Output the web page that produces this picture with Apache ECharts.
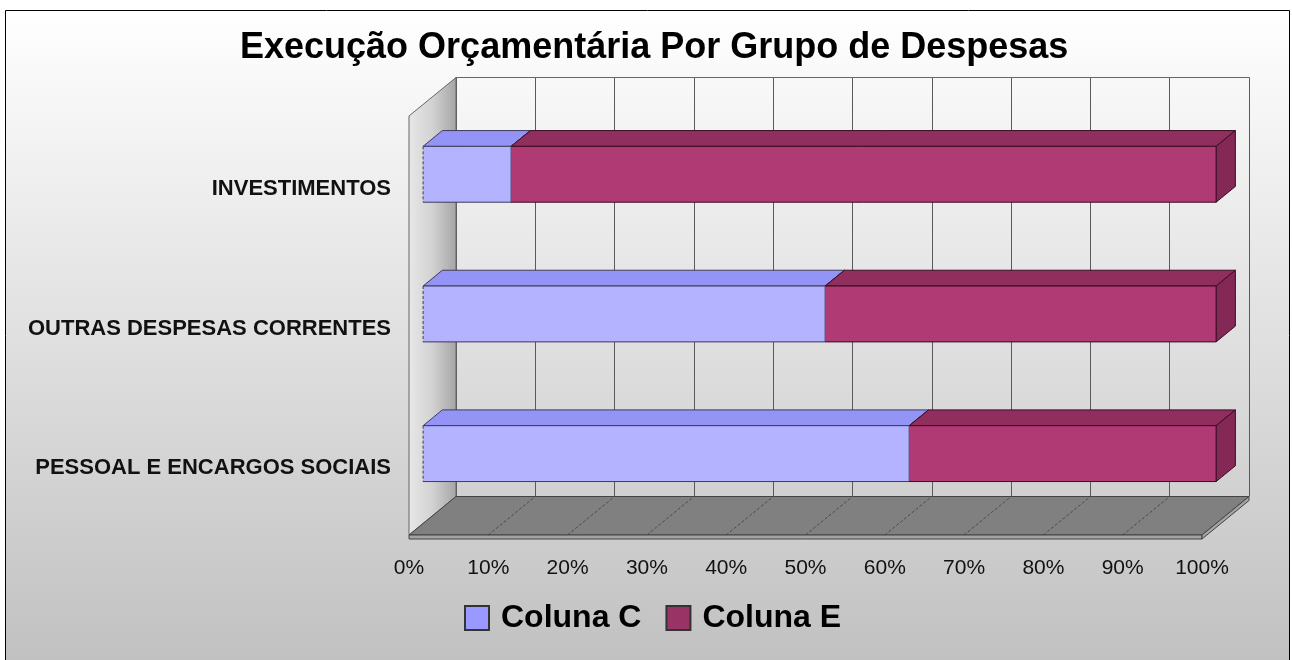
<!DOCTYPE html>
<html lang="pt-BR">
<head>
    <meta charset="UTF-8">
    <script src="https://cdn.jsdelivr.net/npm/echarts@6/dist/echarts.min.js"></script>
    <style>
        html, body { margin: 0; padding: 0; background: #fff; }
        #chart { width: 1292px; height: 660px; }
    </style>
</head>
<body>
<div id="chart"></div>
<script>
    // dados (categorias de baixo para cima, como no eixo)
    var categorias = ['PESSOAL E ENCARGOS SOCIAIS', 'OUTRAS DESPESAS CORRENTES', 'INVESTIMENTOS'];
    var colunaC = [61.3, 50.7, 11.1];
    var colunaE = [38.7, 49.3, 88.9];
    var ticksX = [0, 10, 20, 30, 40, 50, 60, 70, 80, 90, 100];

    // "profundidade" do efeito 3D
    var DX = 47, DY = -38.5;
    var FRENTE = 0.3, FUNDO = 0.41; // posicao da barra dentro da profundidade
    var fonte = 'Liberation Sans, Arial, sans-serif';

    var myChart = echarts.init(document.getElementById('chart'));

    // caixa 3D para cada pedaco da barra
    function caixa(cores) {
        return function (params, api) {
            var cat = api.value(0);
            var p0 = api.coord([api.value(1), cat]);
            var p1 = api.coord([api.value(2), cat]);
            var h = api.size([0, 1])[1] * 0.4;
            var fx = DX * FRENTE, fy = DY * FRENTE;
            var dx = DX * FUNDO, dy = DY * FUNDO;
            var x0 = p0[0] + fx, x1 = p1[0] + fx;
            var yT = p0[1] + fy - h / 2, yB = p0[1] + fy + h / 2;
            var filhos = [
                {type: 'polygon', shape: {points: [[x0, yT], [x0 + dx, yT + dy], [x1 + dx, yT + dy], [x1, yT]]},
                    style: {fill: cores.topo, stroke: cores.borda, lineWidth: 1}},
                {type: 'polygon', shape: {points: [[x1, yT], [x1 + dx, yT + dy], [x1 + dx, yB + dy], [x1, yB]]},
                    style: {fill: cores.lado, stroke: cores.borda, lineWidth: 1}},
                {type: 'rect', shape: {x: x0, y: yT, width: x1 - x0, height: h},
                    style: {fill: cores.frente}},
                {type: 'polyline', shape: {points: [[x0, yT], [x1, yT], [x1, yB], [x0, yB]]},
                    style: {fill: null, stroke: cores.borda, lineWidth: 1}}
            ];
            if (api.value(1) === 0) {
                filhos.push({type: 'line', shape: {x1: x0, y1: yT, x2: x0, y2: yB},
                    style: {stroke: cores.borda, lineWidth: 1, lineDash: [3, 2]}});
            }
            return {type: 'group', children: filhos};
        };
    }

    // parede lateral e piso
    function cenario(params, api) {
        var cs = params.coordSys;
        var xl = cs.x, xr = cs.x + cs.width, yt = cs.y, yb = cs.y + cs.height;
        var filhos = [
            {type: 'polygon', shape: {points: [[xl, yt], [xl + DX, yt + DY], [xl + DX, yb + DY], [xl, yb]]},
                style: {
                    fill: new echarts.graphic.LinearGradient(0, 0, 1, 0, [
                        {offset: 0, color: '#e8e8e8'}, {offset: 0.5, color: '#d2d2d2'}, {offset: 1, color: '#a4a4a4'}
                    ]),
                    stroke: '#666', lineWidth: 1
                }},
            {type: 'polygon', shape: {points: [[xl, yb], [xl + DX, yb + DY], [xr + DX, yb + DY], [xr, yb]]},
                style: {fill: '#808080', stroke: '#444', lineWidth: 1}},
            {type: 'rect', shape: {x: xl, y: yb, width: cs.width, height: 4},
                style: {fill: '#a3a3a3', stroke: '#444', lineWidth: 1}},
            {type: 'polygon', shape: {points: [[xr, yb], [xr + DX, yb + DY], [xr + DX, yb + DY + 4], [xr, yb + 4]]},
                style: {fill: '#a3a3a3', stroke: '#444', lineWidth: 1}}
        ];
        ticksX.forEach(function (v) {
            if (v === 0 || v === 100) return;
            var x = api.coord([v, 0])[0];
            filhos.push({type: 'line', shape: {x1: x, y1: yb, x2: x + DX, y2: yb + DY},
                style: {stroke: '#4a4a4a', lineWidth: 1, lineDash: [3, 2]}});
        });
        return {type: 'group', children: filhos};
    }

    var frente = {left: 409, top: 116, width: 793, height: 419};

    myChart.setOption({
        animation: false,
        graphic: [{
            type: 'rect', z: -10, silent: true,
            shape: {x: 5.5, y: 10.5, width: 1284, height: 660},
            style: {
                fill: new echarts.graphic.LinearGradient(0, 0, 0, 1, [
                    {offset: 0, color: '#ffffff'}, {offset: 1, color: '#c0c0c0'}
                ]),
                stroke: '#000', lineWidth: 1
            }
        }],
        title: {
            text: 'Execução Orçamentária Por Grupo de Despesas',
            left: 235, top: 25,
            textStyle: {fontFamily: fonte, fontSize: 36, fontWeight: 'bold', color: '#000'}
        },
        legend: {
            left: 459, top: 597,
            itemWidth: 24, itemHeight: 24, itemGap: 24,
            icon: 'rect',
            textStyle: {fontFamily: fonte, fontSize: 32, fontWeight: 'bold', color: '#000', padding: [0, 0, 0, 7]},
            data: ['Coluna C', 'Coluna E']
        },
        grid: [
            // parede do fundo
            {left: frente.left + DX, top: frente.top + DY, width: frente.width, height: frente.height},
            // plano da frente
            {left: frente.left, top: frente.top, width: frente.width, height: frente.height}
        ],
        xAxis: [
            {gridIndex: 0, type: 'value', min: 0, max: 100, interval: 10, position: 'top',
                axisLabel: {show: false}, axisTick: {show: false},
                axisLine: {show: true, lineStyle: {color: '#666', width: 1}},
                splitLine: {show: true, lineStyle: {color: '#5a5a5a', width: 1}}},
            {gridIndex: 1, type: 'value', min: 0, max: 100, interval: 10,
                axisLine: {show: false}, axisTick: {show: false}, splitLine: {show: false},
                axisLabel: {margin: 23, formatter: '{value}%', fontFamily: fonte, fontSize: 21, color: '#111'}}
        ],
        yAxis: [
            {gridIndex: 0, type: 'category', data: categorias, show: false},
            {gridIndex: 1, type: 'category', data: categorias,
                axisLine: {show: false}, axisTick: {show: false}, splitLine: {show: false},
                axisLabel: {margin: 18, color: '#111',
                    formatter: function (v) { return '{c|' + v + '}'; },
                    rich: {c: {fontFamily: fonte, fontSize: 22, fontWeight: 'bold', color: '#111',
                        lineHeight: 22, padding: [6, 0, 0, 0]}}}}
        ],
        series: [
            {type: 'custom', name: 'cenario', xAxisIndex: 1, yAxisIndex: 1, z: 1, silent: true,
                renderItem: cenario, data: [[0]]},
            {type: 'custom', name: 'Coluna C', xAxisIndex: 1, yAxisIndex: 1, z: 3,
                itemStyle: {color: '#9999ff', borderColor: '#333', borderWidth: 1},
                encode: {x: [1, 2], y: 0},
                renderItem: caixa({frente: '#b3b3ff', topo: '#9494f7', lado: '#8080e0', borda: '#3c3c5a'}),
                data: categorias.map(function (c, i) { return [i, 0, colunaC[i]]; })},
            {type: 'custom', name: 'Coluna E', xAxisIndex: 1, yAxisIndex: 1, z: 4,
                itemStyle: {color: '#993366', borderColor: '#333', borderWidth: 1},
                encode: {x: [1, 2], y: 0},
                renderItem: caixa({frente: '#af3a74', topo: '#902f5e', lado: '#842856', borda: '#3a0c22'}),
                data: categorias.map(function (c, i) { return [i, colunaC[i], colunaC[i] + colunaE[i]]; })}
        ]
    });
</script>
</body>
</html>
